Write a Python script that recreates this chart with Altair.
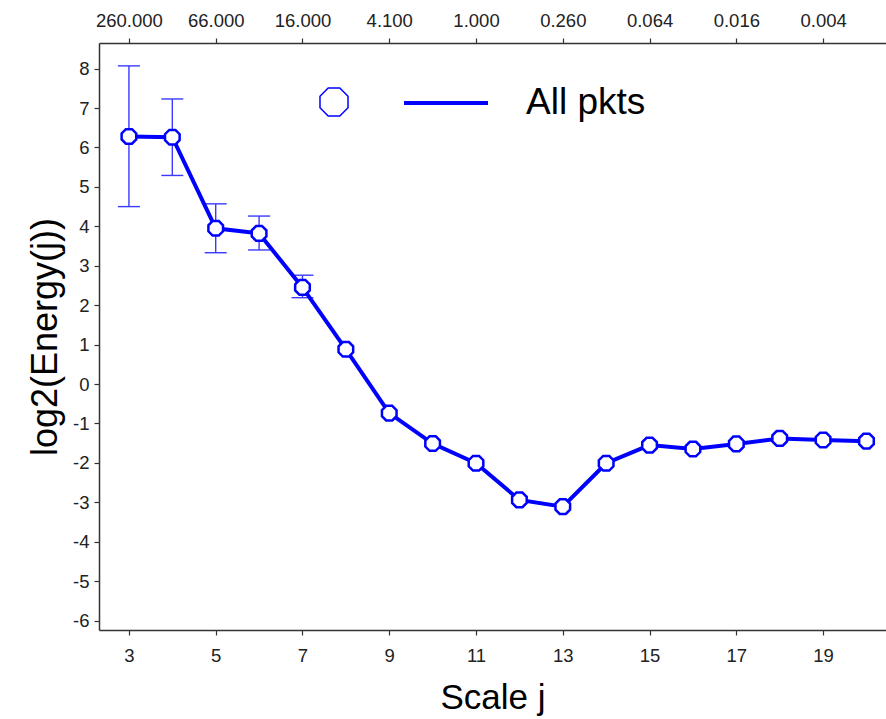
import altair as alt
import pandas as pd

# Wavelet energy per scale (log2), all packets
scale_j = [3, 4, 5, 6, 7, 8, 9, 10, 11, 12, 13, 14, 15, 16, 17, 18, 19, 20]
log2_energy = [6.28, 6.26, 3.95, 3.82, 2.45, 0.88, -0.74, -1.51, -2.01, -2.94,
               -3.11, -2.01, -1.55, -1.65, -1.52, -1.38, -1.42, -1.45]

# Confidence intervals on the coarse scales
err_j = [3, 4, 5, 6, 7]
err_lo = [4.50, 5.29, 3.33, 3.40, 2.19]
err_hi = [8.07, 7.23, 4.57, 4.26, 2.76]

# Time scale (seconds) shown on the top axis
top_ticks = [3, 5, 7, 9, 11, 13, 15, 17, 19]
top_labels = ["260.000", "66.000", "16.000", "4.100", "1.000",
              "0.260", "0.064", "0.016", "0.004"]

bottom_ticks = [3, 5, 7, 9, 11, 13, 15, 17, 19]
y_ticks = list(range(-6, 9))

series_name = "All pkts"

df = pd.DataFrame({"j": scale_j, "e": log2_energy,
                   "series": series_name, "mk": "marker"})
err = pd.DataFrame({"j": err_j, "lo": err_lo, "hi": err_hi})

BLUE = "#0000ff"
ERR_BLUE = "#3a3aff"
FONT = "Liberation Sans"
OCTAGON = ("M0.383,-0.924L0.924,-0.383L0.924,0.383L0.383,0.924"
           "L-0.383,0.924L-0.924,0.383L-0.924,-0.383L-0.383,-0.924Z")

x_scale = alt.Scale(domain=[2.31, 20.45], nice=False, zero=False)
y_scale = alt.Scale(domain=[-6.24, 8.65], nice=False, zero=False)

top_expr = " : ".join(
    f"datum.value == {v} ? '{t}'" for v, t in zip(top_ticks, top_labels)
) + " : ''"

axis_common = dict(grid=False, domainColor="#333333", domainWidth=1.5,
                   tickColor="#333333", tickWidth=1.2, tickSize=5,
                   labelFont=FONT, labelFontSize=18.5, labelColor="#222222",
                   titleFont=FONT, titleFontWeight="normal", titleColor="#000000")

x_bottom = alt.X("j:Q", scale=x_scale,
                 axis=alt.Axis(orient="bottom", values=bottom_ticks, title="Scale j",
                               titleFontSize=35, labelPadding=11, titlePadding=16,
                               **axis_common))
x_top = alt.X("j:Q", scale=x_scale,
              axis=alt.Axis(orient="top", values=top_ticks, labelExpr=top_expr,
                            title="", labelPadding=8, **axis_common))

y_left = alt.Y("e:Q", scale=y_scale,
               axis=alt.Axis(orient="left", values=y_ticks, title="log2(Energy(j))",
                             labelExpr="toString(datum.value)",
                             titleFontSize=36, labelPadding=5, titlePadding=8,
                             **axis_common))

# error bars: stems and caps
stems = alt.Chart(err).mark_rule(color=ERR_BLUE, strokeWidth=1.4).encode(
    x=alt.X("j:Q", scale=x_scale, axis=None),
    y=alt.Y("lo:Q", scale=y_scale),
    y2="hi:Q",
)
caps_lo = alt.Chart(err).mark_rule(color=ERR_BLUE, strokeWidth=1.4,
                                   xOffset=-11, x2Offset=11).encode(
    x=alt.X("j:Q", scale=x_scale, axis=None), x2="j:Q",
    y=alt.Y("lo:Q", scale=y_scale),
)
caps_hi = alt.Chart(err).mark_rule(color=ERR_BLUE, strokeWidth=1.4,
                                   xOffset=-11, x2Offset=11).encode(
    x=alt.X("j:Q", scale=x_scale, axis=None), x2="j:Q",
    y=alt.Y("hi:Q", scale=y_scale),
)

line = alt.Chart(df).mark_line(strokeWidth=4).encode(
    x=x_bottom,
    y=y_left,
    color=alt.Color("series:N",
                    scale=alt.Scale(domain=[series_name], range=[BLUE]),
                    legend=alt.Legend(title=None, orient="none", legendX=303, legendY=16,
                                      symbolType="stroke", symbolSize=7056,
                                      symbolStrokeWidth=4, labelOffset=36,
                                      labelFont=FONT, labelFontSize=37,
                                      labelColor="#000000", padding=0)),
)

# octagon markers; their stroke channel carries the symbol-only legend entry
points = alt.Chart(df).mark_point(shape=OCTAGON, filled=False, fill="white",
                                  strokeWidth=2.5, size=250, opacity=1).encode(
    x=x_top,
    y=alt.Y("e:Q", scale=y_scale),
    stroke=alt.Stroke("mk:N", scale=alt.Scale(domain=["marker"], range=[BLUE]),
                      legend=alt.Legend(title=None, orient="none", legendX=219, legendY=43,
                                        symbolType=OCTAGON, symbolSize=920,
                                        symbolStrokeWidth=1.5,
                                        symbolStrokeColor="#4040ff",
                                        symbolFillColor="white", symbolOpacity=1,
                                        labelExpr="''", labelOffset=0, padding=0)),
)

chart = alt.layer(stems, caps_lo, caps_hi, line, points).resolve_scale(
    x="independent"
).properties(
    width=787, height=587,
    padding={"left": 99, "top": 43, "right": 0, "bottom": 89},
    autosize=alt.AutoSizeParams(type="none"),
).configure_view(strokeWidth=0).configure(background="white")

chart.save("out.html", embed_options={"renderer": "svg", "actions": False})
